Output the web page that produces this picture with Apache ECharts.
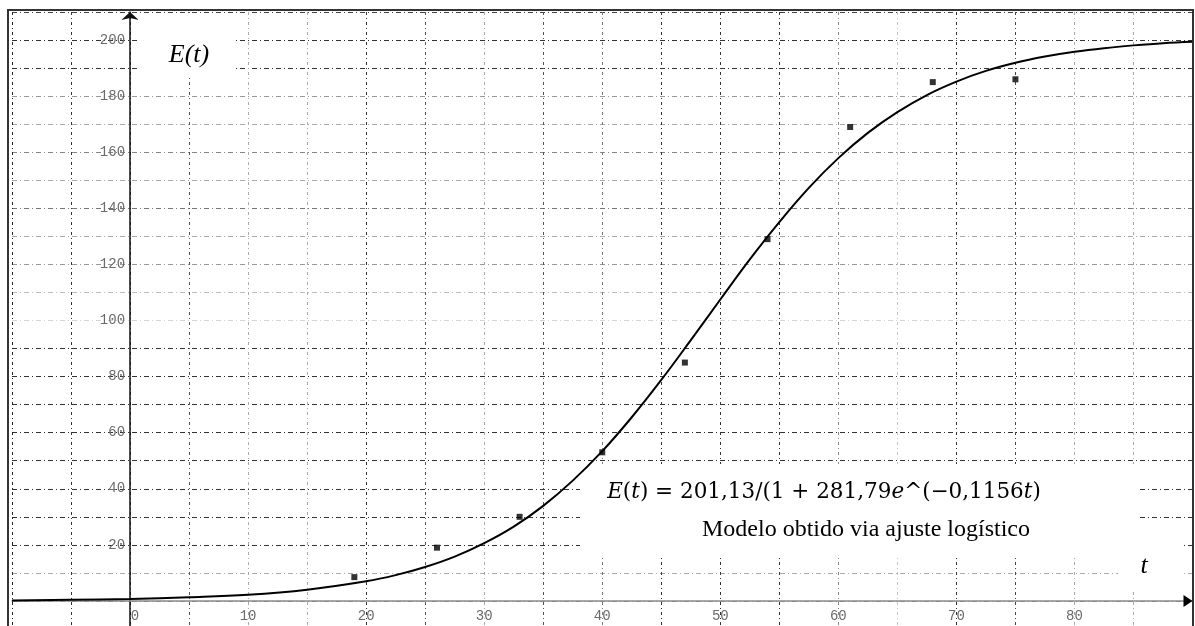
<!DOCTYPE html>
<html>
<head>
<meta charset="utf-8">
<title>E(t) ajuste logístico</title>
<script src="https://cdn.jsdelivr.net/npm/echarts@6.0.0/dist/echarts.min.js"></script>
<style>
  html, body { margin: 0; padding: 0; background: #fff; }
  #chart { width: 1195px; height: 626px; }
</style>
</head>
<body>
<div id="chart"></div>
<script>
// tick labels that are printed on the axes
const xTickLabels = [0, 10, 20, 30, 40, 50, 60, 70, 80];
const yTickLabels = [20, 40, 60, 80, 100, 120, 140, 160, 180, 200];

// observed points (small black squares)
const obsT = [19, 26, 33, 40, 47, 54, 61, 68, 75];
const obsE = [8.5, 19, 30, 53, 85, 129, 169, 185, 186];

// fitted curve (every 5 on the flat part, every 2.5 after t = 20)
const curveT = [-10, -5, 0, 5, 10, 15, 20, 22.5, 25, 27.5, 30, 32.5, 35, 37.5, 40, 42.5, 45, 47.5, 50,
  52.5, 55, 57.5, 60, 62.5, 65, 67.5, 70, 72.5, 75, 77.5, 80, 82.5, 85, 87.5, 90];
const curveE = [0.2, 0.4, 0.7, 1.3, 2.2, 4.0, 7.0, 9.2, 12.1, 15.8, 20.6, 26.5, 33.9, 42.9, 53.4, 65.5, 78.8, 93.0, 107.5,
  121.8, 135.1, 147.3, 157.9, 166.9, 174.3, 180.4, 185.2, 189.0, 191.9, 194.1, 195.8, 197.1, 198.1, 198.9, 199.4];

// grid line shades (the scan is uneven), one per tick from min to max
const vLineColors = ['#222', '#333', '#333', '#555', '#aaa', '#aaa', '#333', '#555', '#aaa', '#555', '#777',
  '#333', '#333', '#333', '#888', '#c4c4c4', '#333', '#444', '#aaa', '#aaa', '#222'];
const hLineColors = ['#888', '#888', '#aaa', '#333', '#333', '#333', '#333', '#333', '#333', '#333', '#333',
  '#d4d4d4', '#bdbdbd', '#999', '#aaa', '#777', '#aaa', '#888', '#aaa', '#999', '#333', '#333', '#444'];

const pairs = (a, b) => a.map((v, i) => [v, b[i]]);

let chart = echarts.init(document.getElementById('chart'));

let option = {
  animation: false,
  backgroundColor: '#fff',
  grid: { left: 12, right: 2.5, top: 12, bottom: -3, containLabel: false, outerBoundsMode: 'none' },
  xAxis: {
    type: 'value',
    position: 'bottom',
    min: -10,
    max: 90,
    interval: 5,
    axisLine: { onZero: false, lineStyle: { color: '#8a8a8a', width: 1.5 } },
    axisTick: { show: false },
    axisLabel: {
      margin: 8,
      fontFamily: 'Liberation Mono',
      fontSize: 14,
      color: '#6b6b6b',
      formatter: function (v) {
        if (v === 0) return '{z|0}';
        return xTickLabels.indexOf(v) >= 0 ? String(v) : '';
      },
      rich: { z: { padding: [0, 0, 0, 10], fontFamily: 'Liberation Mono', fontSize: 14, color: '#6b6b6b' } }
    },
    splitLine: { show: true, lineStyle: { color: vLineColors, width: 1, type: [3, 3, 1, 3] } }
  },
  yAxis: {
    type: 'value',
    position: 'left',
    min: -10,
    max: 210,
    interval: 10,
    axisLine: {
      onZero: false,
      symbol: ['none', 'arrow'],
      symbolSize: [13, 8],
      lineStyle: { color: '#111', width: 1.5 }
    },
    axisTick: { show: false },
    axisLabel: {
      margin: 5,
      fontFamily: 'Liberation Mono',
      fontSize: 14,
      color: '#6b6b6b',
      formatter: function (v) {
        return yTickLabels.indexOf(v) >= 0 ? String(v) : '';
      }
    },
    splitLine: { show: true, lineStyle: { color: hLineColors, width: 1, type: [5, 3, 1, 3] } }
  },
  series: [
    {
      name: 'modelo',
      type: 'line',
      data: pairs(curveT, curveE),
      showSymbol: false,
      smooth: 0.4,
      lineStyle: { color: '#000', width: 2 },
      z: 3
    },
    {
      name: 'dados',
      type: 'scatter',
      data: pairs(obsT, obsE),
      symbol: 'rect',
      symbolSize: 6,
      itemStyle: { color: '#000' },
      z: 4
    }
  ]
};

chart.setOption(option);

// move both axes (line + labels) onto the origin
let origin = chart.convertToPixel({ gridIndex: 0 }, [0, 0]);
let corner = chart.convertToPixel({ gridIndex: 0 }, [-10, -10]);
chart.setOption({
  xAxis: { offset: -(corner[1] - origin[1]) },
  yAxis: { offset: -(origin[0] - corner[0]) }
});

// white label boxes, texts, frame and the black arrow on the t axis
let tip = chart.convertToPixel({ gridIndex: 0 }, [90, 0]);
let serif = '"Liberation Serif", "Times New Roman", serif';

chart.setOption({
  graphic: [
    { type: 'rect', z: 1, shape: { x: 138, y: 13, width: 98, height: 65 }, style: { fill: '#fff' } },
    { type: 'rect', z: 1, shape: { x: 580, y: 464, width: 560, height: 92 }, style: { fill: '#fff' } },
    { type: 'rect', z: 1, shape: { x: 1118, y: 532, width: 66, height: 58 }, style: { fill: '#fff' } },
    {
      type: 'text', z: 5, x: 189, y: 55,
      style: { text: 'E(t)', font: 'italic 26px ' + serif, fill: '#000', align: 'center', verticalAlign: 'middle', textAlign: 'center', textVerticalAlign: 'middle' }
    },
    {
      type: 'text', z: 5, x: 824, y: 492,
      style: {
        text: '{i|E}(' + '{i|t}) = 201,13/(1 + 281,79{i|e}^(−0,1156{i|t})',
        font: '21.5px "DejaVu Serif", serif',
        fill: '#000',
        align: 'center', verticalAlign: 'middle', textAlign: 'center', textVerticalAlign: 'middle',
        rich: { i: { fontStyle: 'italic', fontSize: 21.5, fontFamily: 'DejaVu Serif', fill: '#000', color: '#000' } }
      }
    },
    {
      type: 'text', z: 5, x: 866, y: 530,
      style: { text: 'Modelo obtido via ajuste logístico', font: '24px ' + serif, fill: '#000', align: 'center', verticalAlign: 'middle', textAlign: 'center', textVerticalAlign: 'middle' }
    },
    {
      type: 'text', z: 5, x: 1144, y: 566,
      style: { text: 't', font: 'italic 26px ' + serif, fill: '#000', align: 'center', verticalAlign: 'middle', textAlign: 'center', textVerticalAlign: 'middle' }
    },
    {
      type: 'polygon', z: 6,
      shape: { points: [[tip[0] - 9, tip[1] - 6], [tip[0], tip[1]], [tip[0] - 9, tip[1] + 6]] },
      style: { fill: '#000' }
    },
    {
      type: 'rect', z: 6, shape: { x: 8, y: 10, width: 1185, height: 620 },
      style: { fill: 'none', stroke: '#333', lineWidth: 2 }
    }
  ]
});
</script>
</body>
</html>
